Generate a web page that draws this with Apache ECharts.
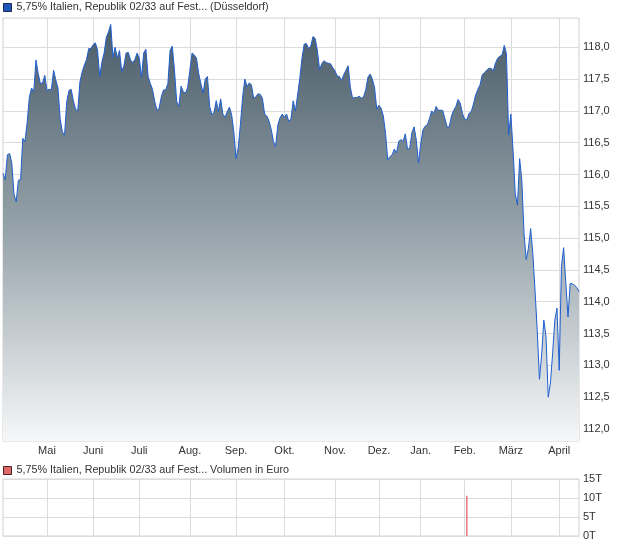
<!DOCTYPE html>
<html><head><meta charset="utf-8">
<script src="https://cdn.jsdelivr.net/npm/echarts@6/dist/echarts.min.js"></script>
<style>html,body{margin:0;padding:0;background:#fff}#c{width:620px;height:546px}</style>
</head><body><div id="c"></div>
<script>
const seriesName = '5,75% Italien, Republik 02/33 auf Fest... (Düsseldorf)';
const volumeName = '5,75% Italien, Republik 02/33 auf Fest... Volumen in Euro';
const monthLabels = ['Mai','Juni','Juli','Aug.','Sep.','Okt.','Nov.','Dez.','Jan.','Feb.','März','April'];
const monthStartIndex = [20,41,62,85,106,128,151,171,190,210,231,253];
const prices = [
116.02,115.92,116.31,116.33,116.18,115.69,115.57,115.91,115.92,116.57,
116.52,116.82,117.22,117.36,117.30,117.80,117.59,117.43,117.44,117.56,
117.32,117.34,117.33,117.64,117.49,117.36,116.88,116.67,116.62,117.15,
117.32,117.34,117.16,117.03,117.00,117.46,117.61,117.72,117.81,117.98,
117.98,118.04,118.07,117.96,117.54,117.77,117.91,118.16,118.24,118.36,
117.84,118.00,117.83,117.95,117.62,117.71,117.91,117.92,117.80,117.76,
117.81,117.91,117.83,117.53,117.91,117.97,117.54,117.43,117.34,117.15,
117.01,117.04,117.22,117.33,117.33,117.43,117.95,118.02,117.64,117.15,
117.07,117.39,117.30,117.28,117.37,117.64,117.91,117.88,117.83,117.59,
117.43,117.28,117.50,117.54,117.07,116.94,116.98,117.16,116.99,117.19,
116.95,116.90,116.99,117.06,116.94,116.67,116.25,116.42,116.79,117.22,
117.50,117.38,117.44,117.41,117.20,117.22,117.27,117.26,117.20,116.95,
116.92,116.84,116.71,116.52,116.44,116.78,116.89,116.95,116.90,116.95,
116.83,116.88,117.16,117.00,117.25,117.51,117.83,118.05,118.06,117.98,
118.02,118.17,118.14,117.95,117.65,117.74,117.79,117.76,117.75,117.74,
117.68,117.63,117.55,117.54,117.48,117.57,117.64,117.71,117.37,117.20,
117.21,117.21,117.23,117.20,117.22,117.33,117.53,117.58,117.50,117.37,
117.03,117.09,117.04,116.92,116.65,116.23,116.28,116.31,116.40,116.34,
116.52,116.55,116.52,116.64,116.40,116.41,116.66,116.75,116.54,116.18,
116.48,116.70,116.76,116.78,116.88,117.00,116.96,117.07,117.01,117.01,
117.01,116.88,116.75,116.75,116.92,117.01,117.07,117.18,117.12,116.96,
116.87,116.86,116.96,116.99,117.11,117.25,117.34,117.41,117.57,117.60,
117.64,117.67,117.67,117.63,117.75,117.83,117.86,117.88,118.03,117.90,
116.62,116.95,116.39,115.70,115.52,116.25,115.91,115.07,114.66,114.84,
115.15,114.76,114.18,113.55,112.78,113.16,113.71,113.45,112.50,112.72,
113.19,113.71,113.90,112.92,114.55,114.85,114.30,113.76,114.29,114.28,
114.26,114.22,114.16
];
const priceTicks = [112,112.5,113,113.5,114,114.5,115,115.5,116,116.5,117,117.5,118];
const volumeTicks = [0,5,10,15];
const volumeDay = 211;      // trading day with turnover
const volumeValue = 10.6;   // in thousand euro

const categories = prices.map((_, i) => 'Tag ' + (i + 1));
const volumes = prices.map((_, i) => (i === volumeDay ? volumeValue : 0));
const isMonthStart = (idx) => monthStartIndex.indexOf(idx) >= 0;

const font = { fontFamily: 'Liberation Sans, Arial, sans-serif', fontSize: 11, color: '#333' };
const legendFont = { fontFamily: 'Liberation Sans, Arial, sans-serif', fontSize: 10.75, color: '#333' };
const gridLine = { show: true, lineStyle: { color: '#dcdcdc', width: 1 } };

const chart = echarts.init(document.getElementById('c'), null, { renderer: 'canvas' });
chart.setOption({
  animation: false,
  backgroundColor: '#fff',
  legend: [
    { left: 3, top: 2, padding: 0, itemWidth: 8, itemHeight: 8, itemGap: 5, textStyle: legendFont, selectedMode: false,
      data: [{ name: seriesName, icon: 'rect', itemStyle: { color: '#1f56b8', borderColor: '#1a2b55', borderWidth: 1 } }] },
    { left: 3, top: 465, padding: 0, itemWidth: 8, itemHeight: 8, itemGap: 5, textStyle: legendFont, selectedMode: false,
      data: [{ name: volumeName, icon: 'rect', itemStyle: { color: '#e06a6a', borderColor: '#4a2020', borderWidth: 1 } }] }
  ],
  grid: [
    { left: 3, right: 41, top: 18, height: 423, show: true, borderColor: '#d0d0d0', borderWidth: 1, backgroundColor: 'transparent' },
    { left: 3, right: 41, top: 479, height: 57, show: true, borderColor: '#d0d0d0', borderWidth: 1, backgroundColor: 'transparent' }
  ],
  xAxis: [
    { type: 'category', gridIndex: 0, data: categories, boundaryGap: false,
      axisLine: { show: false }, axisTick: { show: false },
      axisLabel: Object.assign({}, font, { interval: (i) => isMonthStart(i), margin: 4,
        formatter: (v, i) => monthLabels[monthStartIndex.indexOf(i)] || '' }),
      splitLine: { show: true, interval: (i) => isMonthStart(i), lineStyle: { color: '#dcdcdc', width: 1 } } },
    { type: 'category', gridIndex: 1, data: categories, boundaryGap: false,
      axisLine: { show: false }, axisTick: { show: false }, axisLabel: { show: false },
      splitLine: { show: true, interval: (i) => isMonthStart(i), lineStyle: { color: '#dcdcdc', width: 1 } } }
  ],
  yAxis: [
    { type: 'value', gridIndex: 0, position: 'right', min: 111.81, max: 118.461, scale: true,
      axisLine: { show: false },
      axisTick: { show: false, customValues: priceTicks },
      axisLabel: Object.assign({}, font, { customValues: priceTicks, margin: 4,
        formatter: (v) => v.toFixed(1).replace('.', ',') }),
      splitLine: gridLine },
    { type: 'value', gridIndex: 1, position: 'right', min: 0, max: 15, interval: 5,
      axisLine: { show: false }, axisTick: { show: false },
      axisLabel: Object.assign({}, font, { margin: 4, formatter: (v) => v + 'T' }),
      splitLine: gridLine }
  ],
  series: [
    { name: seriesName, type: 'line', xAxisIndex: 0, yAxisIndex: 0, data: prices,
      showSymbol: false, symbol: 'none', sampling: false,
      lineStyle: { color: '#1f5fcf', width: 1 },
      itemStyle: { color: '#1f56b8' },
      areaStyle: { origin: 'start', opacity: 1,
        color: new echarts.graphic.LinearGradient(0, 0, 0, 1, [
          { offset: 0, color: '#4a5c69' },
          { offset: 0.5, color: '#97a4ab' },
          { offset: 1, color: '#f6f7f8' }
        ]) } },
    { name: volumeName, type: 'bar', xAxisIndex: 1, yAxisIndex: 1, data: volumes,
      barWidth: 1, itemStyle: { color: '#e03c3c' } }
  ]
});
</script>
</body></html>
